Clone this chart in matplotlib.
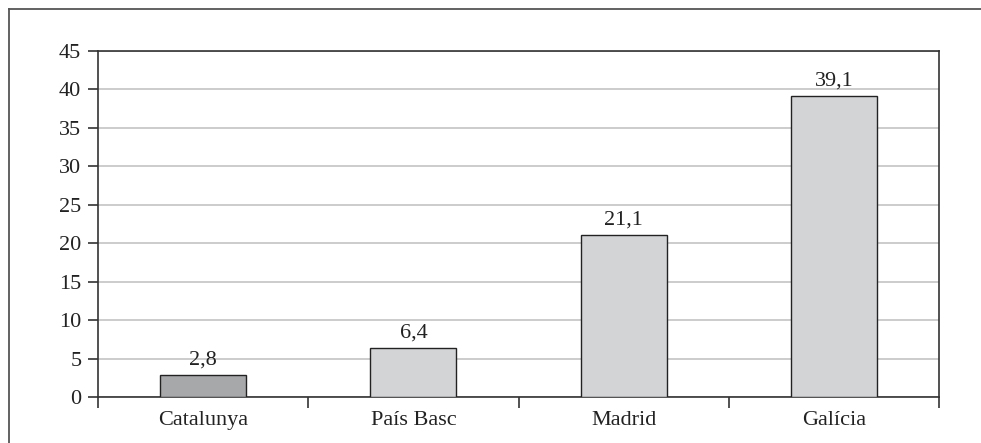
import numpy as np
import matplotlib.pyplot as plt
from matplotlib.lines import Line2D

regions = ['Catalunya', 'País Basc', 'Madrid', 'Galícia']
values = [2.8, 6.4, 21.1, 39.1]
labels = ['2,8', '6,4', '21,1', '39,1']
colors = ['#a7a8aa', '#d3d4d6', '#d3d4d6', '#d3d4d6']

plt.rcParams['font.family'] = ['Liberation Serif', 'DejaVu Serif']
fs = 16

fig = plt.figure(figsize=(9.81, 4.43), dpi=100)
ax = fig.add_axes([0.0999, 0.1038, 0.8573, 0.7811])

# marc exterior
fig.add_artist(Line2D([0.0092, 0.0092], [0, 0.98], transform=fig.transFigure, color='#555555', lw=1.3))
fig.add_artist(Line2D([0.0092, 1.0], [0.98, 0.98], transform=fig.transFigure, color='#555555', lw=1.3))

x = np.arange(len(regions))
ax.bar(x, values, width=0.41, color=colors, edgecolor='#222222', linewidth=1.0, zorder=3)

for xi, v, t in zip(x, values, labels):
    ax.annotate(t, (xi, v), xytext=(0, 4), textcoords='offset points',
                ha='center', va='bottom', fontsize=fs, color='#222222')

ax.set_xlim(-0.5, len(regions) - 0.5)
ax.set_ylim(0, 45)
ax.set_yticks(np.arange(0, 46, 5))
ax.yaxis.grid(True, color='#c4c4c4', lw=1.2, zorder=0)

ax.set_xticks(x)
ax.set_xticklabels(regions)
ax.set_xticks(np.arange(-0.5, len(regions)), minor=True)
ax.tick_params(axis='x', which='major', length=0, pad=10, labelsize=fs, colors='#222222')
ax.tick_params(axis='x', which='minor', length=8, width=1.2, direction='out', color='#333333')
ax.tick_params(axis='y', length=7, width=1.2, pad=5, labelsize=fs, colors='#222222')
ax.tick_params(axis='y', color='#333333')

for s in ax.spines.values():
    s.set_color('#333333')
    s.set_linewidth(1.2)

plt.savefig('out.png', dpi=100)
